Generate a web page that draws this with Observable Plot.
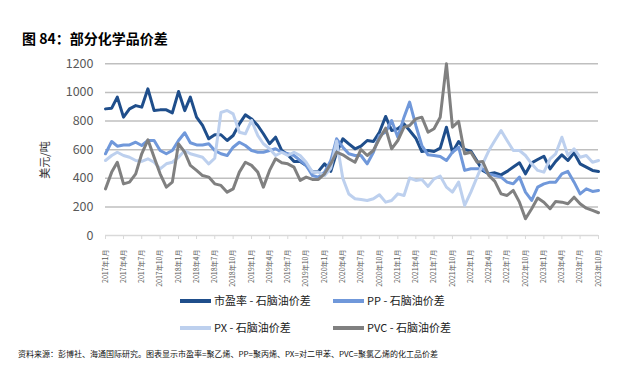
<!DOCTYPE html>
<html><head><meta charset="utf-8">
<script src="https://cdn.jsdelivr.net/npm/d3@7"></script>
<script src="https://cdn.jsdelivr.net/npm/@observablehq/plot@0.6"></script>
<style>
body{margin:0;width:619px;height:368px;background:#fff;font-family:"Noto Sans CJK SC","Noto Sans",sans-serif;position:relative;overflow:hidden}
#title{position:absolute;left:22px;top:28px;font-size:14px;font-weight:bold;color:#000;line-height:20px}
#chart{position:absolute;left:0;top:50px}
#ylab{position:absolute;left:14px;top:152px;width:60px;height:16px;line-height:16px;text-align:center;font-size:11px;color:#333;transform:rotate(-90deg);transform-origin:30px 8px}
.lg{position:absolute;height:16px;line-height:16px;font-size:11px;color:#222;white-space:nowrap}
.lg span.sw{display:inline-block;width:31px;height:4px;vertical-align:middle;margin-right:3px;position:relative;top:-1px}
#foot{position:absolute;left:18px;top:348px;font-size:8px;line-height:12px;color:#111;white-space:nowrap}
</style>
</head><body>
<div id="title">图 84：部分化学品价差</div>
<div id="chart"></div>
<div id="ylab">美元/吨</div>
<div id="legend"></div>
<div id="foot">资料来源：彭博社、海通国际研究。图表显示市盈率=聚乙烯、PP=聚丙烯、PX=对二甲苯、PVC=聚氯乙烯的化工品价差</div>
<script>
const seriesNames = ["市盈率 - 石脑油价差","PP - 石脑油价差","PX - 石脑油价差","PVC - 石脑油价差"];
const seriesColors = ["#1F4E8B","#7098DA","#BDD0EE","#808080"];
const yTicks = [0,200,400,600,800,1000,1200];

const pe = [885,890,967,827,885,908,897,1025,873,878,878,857,1006,873,967,827,769,676,704,704,
664,699,780,843,815,769,711,641,687,594,564,518,518,490,443,448,501,448,578,676,
641,606,625,664,657,722,832,734,746,780,734,680,587,594,587,611,757,582,657,601,
590,520,455,431,438,424,448,478,508,431,508,531,554,466,518,564,524,578,501,478,455,448];
const pp = [571,657,624,633,633,652,629,664,664,594,571,594,664,718,648,633,633,641,594,571,
559,617,652,629,594,582,582,594,606,582,571,559,524,490,419,408,443,524,676,617,
571,559,559,501,582,699,722,804,687,827,932,769,629,564,559,552,524,582,617,455,
466,466,466,431,419,408,373,361,408,303,245,338,361,373,373,431,448,373,291,326,308,315];
const px = [524,559,582,559,547,524,518,536,512,466,501,512,547,594,571,559,547,500,540,860,
874,850,722,711,804,699,641,606,559,582,559,582,559,512,443,443,419,470,660,400,
290,257,252,245,257,285,233,245,291,280,402,385,392,343,396,415,338,303,373,210,
303,408,501,594,664,734,664,594,594,559,501,455,443,536,571,687,559,606,547,559,512,524];
const pvc = [326,443,512,361,373,431,571,669,547,431,338,373,641,582,490,455,419,408,361,350,
303,326,443,512,490,443,338,455,536,508,501,478,385,408,392,392,431,501,582,564,
536,512,601,559,594,676,750,606,664,757,769,815,827,722,746,827,1200,757,797,571,
582,512,518,419,378,291,280,315,233,117,187,262,233,187,238,233,222,268,222,191,175,159];

const months = d3.utcMonth.range(new Date(Date.UTC(2017,0,1)), new Date(Date.UTC(2023,10,1)));
const tickDates = months.filter((d,i)=> i%3===0);
const allSeries = [pe,pp,px,pvc];
const tables = allSeries.map(vals => vals.map((v,i)=>({date:months[i], value:v})));

const fontCN = '"Noto Sans CJK SC","Noto Sans",sans-serif';
const chart = Plot.plot({
  width:619, height:240,
  marginTop:13.3, marginBottom:55, marginLeft:105, marginRight:21,
  style:{fontFamily:fontCN, background:"transparent", overflow:"visible"},
  x:{type:"utc", domain:[months[0], months[months.length-1]]},
  y:{domain:[0,1200]},
  marks:[
    Plot.gridY(yTicks.filter(t=>t>0), {stroke:"#bfbfbf", strokeOpacity:1, strokeWidth:1.5}),
    Plot.ruleY([0], {stroke:"#d9d9d9", strokeWidth:1.5}),
    Plot.axisY({ticks:yTicks, tickSize:0, tickPadding:12, fontSize:12.5, fill:"#595959",
      tickFormat:d=>String(d), label:null,
      style:{fontFamily:'"Liberation Sans",Arial,sans-serif'}}),
    Plot.axisX({ticks:tickDates, tickSize:4, stroke:"#d9d9d9", tickRotate:-90, tickPadding:10,
      fontSize:7, fill:"#595959",
      tickFormat:d=>`${d.getUTCFullYear()}年${d.getUTCMonth()+1}月`, label:null}),
    ...tables.map((t,k)=>Plot.lineY(t, {x:"date", y:"value", stroke:seriesColors[k], strokeWidth:3,
      strokeLinejoin:"round", strokeLinecap:"round"}))
  ]
});
document.getElementById("chart").appendChild(chart);

const lgPos = [[180,292],[333,292],[180,319],[333,319]];
const lg = document.getElementById("legend");
seriesNames.forEach((n,k)=>{
  const d = document.createElement("div");
  d.className="lg"; d.style.left=lgPos[k][0]+"px"; d.style.top=lgPos[k][1]+"px";
  d.innerHTML = `<span class="sw" style="background:${seriesColors[k]}"></span>${n}`;
  lg.appendChild(d);
});
</script>
</body></html>
